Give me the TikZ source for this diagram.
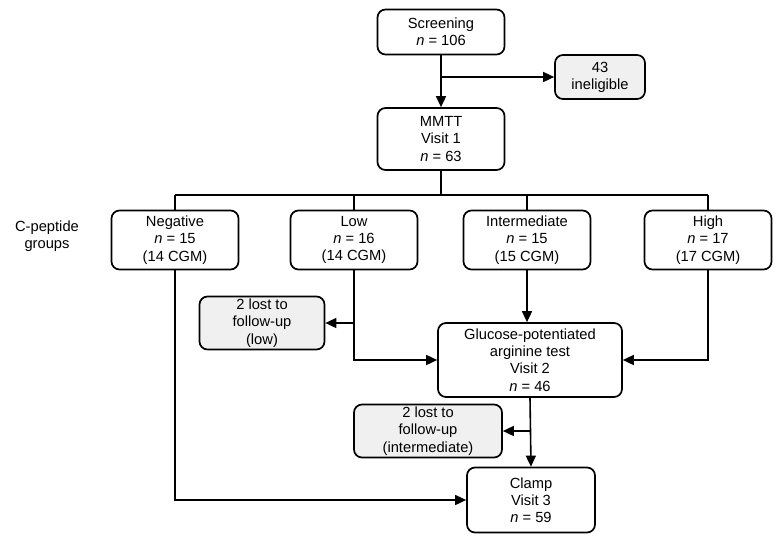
\documentclass[tikz,border=0pt]{standalone}
\usepackage{fontspec}
\setmainfont{Liberation Sans}
\usetikzlibrary{arrows.meta}

\tikzset{
  box/.style={draw=black,line width=1.7pt,rounded corners=8pt,fill=white,
    align=center,inner sep=2pt,font=\fontsize{14.7}{17.2}\selectfont},
  lostbox/.style={box,fill=black!6},
  link/.style={line width=1.6pt},
  arr/.style={link,-{Triangle[length=11pt,width=10pt]}}
}

\begin{document}
\begin{tikzpicture}[x=1pt,y=-1pt]
\useasboundingbox (0,0) rectangle (783,559);

% Top of the flow
\node[box,minimum width=127pt,minimum height=45pt] (screen) at (441,32) {Screening\\ \textit{n} = 106};
\node[lostbox,minimum width=90pt,minimum height=44pt] (inelig) at (600,77) {43\\ ineligible};
\node[box,minimum width=127pt,minimum height=62pt] (mmtt) at (441,139) {MMTT\\ Visit 1\\ \textit{n} = 63};

% C-peptide groups
\node[align=center,font=\fontsize{14.7}{17.2}\selectfont] (grouplabel) at (47,236) {C-peptide\\ groups};
\node[box,minimum width=127pt,minimum height=59pt] (neg) at (175,240) {Negative\\ \textit{n} = 15\\ (14 CGM)};
\node[box,minimum width=127pt,minimum height=59pt] (low) at (354,240) {Low\\ \textit{n} = 16\\ (14 CGM)};
\node[box,minimum width=127pt,minimum height=59pt] (inter) at (527,240) {Intermediate\\ \textit{n} = 15\\ (15 CGM)};
\node[box,minimum width=127pt,minimum height=59pt] (high) at (708,240) {High\\ \textit{n} = 17\\ (17 CGM)};

% Later visits
\node[lostbox,minimum width=125pt,minimum height=53pt] (lostlow) at (262,323) {2 lost to\\ follow-up\\ (low)};
\node[box,minimum width=184pt,minimum height=74pt] (gpat) at (530,360) {Glucose-potentiated\\ arginine test\\ Visit 2\\ \textit{n} = 46};
\node[lostbox,minimum width=148pt,minimum height=53pt] (lostint) at (428,431) {2 lost to\\ follow-up\\ (intermediate)};
\node[box,minimum width=128pt,minimum height=65pt] (clamp) at (531,500) {Clamp\\ Visit 3\\ \textit{n} = 59};

% Coordinate points
\coordinate (split) at (screen.south |- inelig.west);
\coordinate (bus) at (441,195);
\coordinate (busleft) at (neg.north |- bus);
\coordinate (busright) at (high.north |- bus);
\coordinate (lowsplit) at (low.south |- lostlow.east);
\coordinate (intsplit) at (gpat.south |- lostint.east);

% Connectors
\draw[arr] (screen.south) -- (mmtt.north);
\draw[arr] (split) -- (inelig.west);
\draw[link] (mmtt.south) -- (bus);
\draw[link] (busleft) -- (busright);
\draw[link] (busleft) -- (neg.north);
\draw[link] (low.north |- bus) -- (low.north);
\draw[link] (inter.north |- bus) -- (inter.north);
\draw[link] (busright) -- (high.north);
\draw[arr] (low.south) |- (gpat.west);
\draw[arr] (lowsplit) -- (lostlow.east);
\draw[arr] (inter.south) -- (inter.south |- gpat.north);
\draw[arr] (high.south) |- (gpat.east);
\draw[arr] (gpat.south) -- (clamp.north);
\draw[arr] (intsplit) -- (lostint.east);
\draw[arr] (neg.south) |- (clamp.west);

\end{tikzpicture}
\end{document}
